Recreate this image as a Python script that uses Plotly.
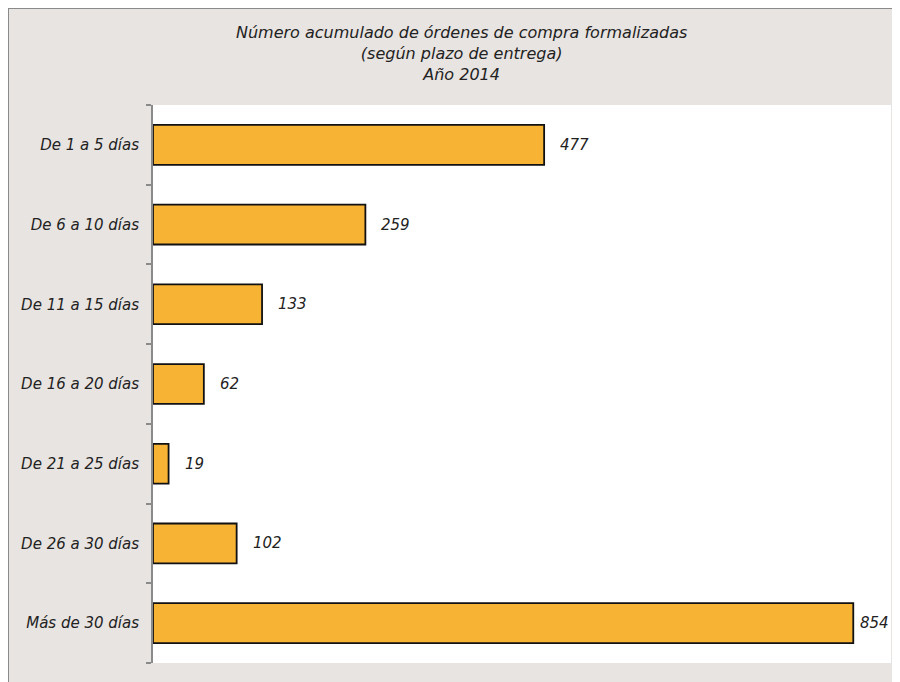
import plotly.graph_objects as go

categories = ["De 1 a 5 días", "De 6 a 10 días", "De 11 a 15 días", "De 16 a 20 días",
              "De 21 a 25 días", "De 26 a 30 días", "Más de 30 días"]
values = [477, 259, 133, 62, 19, 102, 854]
title_lines = ["Número acumulado de órdenes de compra formalizadas",
               "(según plazo de entrega)", "Año 2014"]

FONT = "DejaVu Sans"
TXT = "#222222"
W, H = 892, 674
L, R, T, B = 145, 9, 97, 19
PW, PH = W - L - R, H - T - B
XMAX = 900


def px(x):  # figure px -> plot-area paper x
    return (x - L) / PW


def py(y):  # figure px (from top) -> plot-area paper y
    return (H - B - y) / PH


fig = go.Figure()
fig.add_trace(go.Bar(
    y=categories, x=values, orientation="h",
    marker=dict(color="#F7B334", line=dict(color="#111111", width=1.8)),
    width=0.5, hoverinfo="skip",
))

for c, v in zip(categories, values):
    bar_end = v / XMAX * PW
    shift = min(14, PW - 33 - bar_end)
    fig.add_annotation(x=v, y=c, xref="x", yref="y", text=f"<i>{v}</i>",
                       showarrow=False, xanchor="left", xshift=shift,
                       font=dict(family=FONT, size=15, color=TXT))

fig.add_annotation(x=px(453), y=py(45), xref="paper", yref="paper",
                   text="<br>".join(f"<i>{t}</i>" for t in title_lines),
                   showarrow=False, xanchor="center", yanchor="middle",
                   font=dict(family=FONT, size=16, color=TXT))

# frame lines (top and left)
fig.add_shape(type="line", xref="paper", yref="paper",
              x0=px(0), x1=px(W + 5), y0=py(0), y1=py(0),
              line=dict(color="#8a8a8a", width=2))
fig.add_shape(type="line", xref="paper", yref="paper",
              x0=px(0), x1=px(0), y0=py(0), y1=py(H + 5),
              line=dict(color="#8a8a8a", width=2))

fig.update_layout(
    width=W, height=H,
    margin=dict(l=L, r=R, t=T, b=B),
    paper_bgcolor="#E8E4E1", plot_bgcolor="#FFFFFF",
    showlegend=False,
    font=dict(family=FONT, size=15, color=TXT),
)

fig.update_xaxes(range=[0, XMAX], visible=False, fixedrange=True)
fig.update_yaxes(autorange="reversed", showline=True, linecolor="#8a8a8a", linewidth=2,
                 ticks="outside", tickson="boundaries", ticklen=5, tickcolor="#8a8a8a",
                 tickwidth=1.5, showgrid=False, ticklabelstandoff=9,
                 tickfont=dict(family=FONT, size=15, color=TXT),
                 ticktext=[f"<i>{c}</i>" for c in categories], tickvals=categories)

fig.write_html("out.html")
